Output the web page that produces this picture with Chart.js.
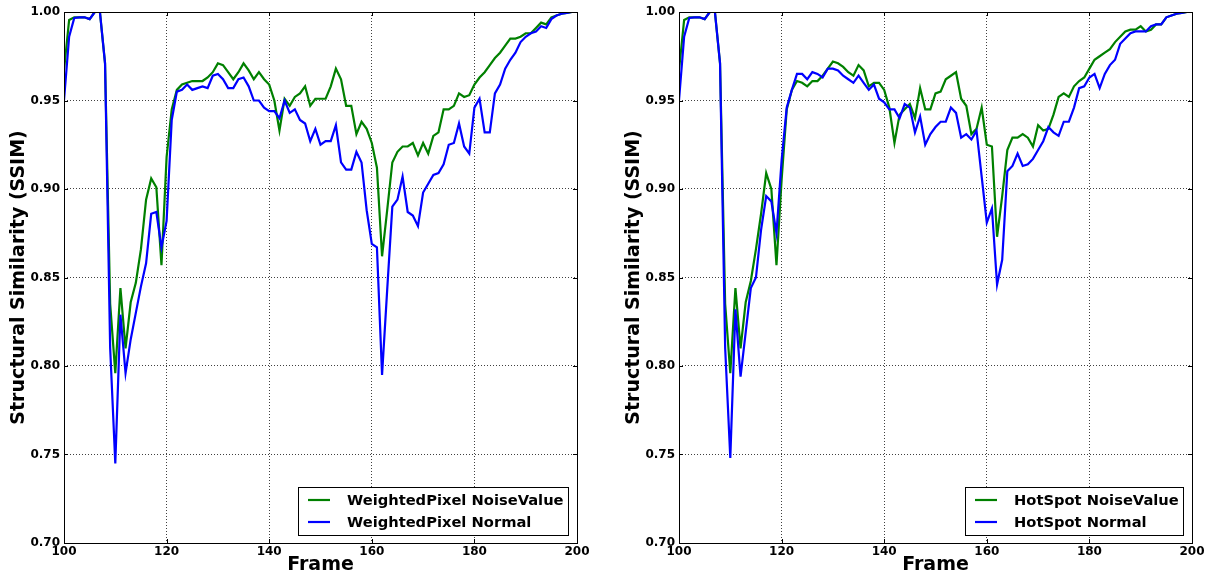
<!DOCTYPE html>
<html>
<head>
<meta charset="utf-8">
<script src="https://cdn.jsdelivr.net/npm/chart.js@4.4.1/dist/chart.umd.min.js"></script>
<style>
  body { margin: 0; background: #fff; }
  #wrap { position: relative; width: 1210px; height: 575px; }
  canvas { position: absolute; top: 0; }
</style>
</head>
<body>
<div id="wrap">
  <canvas id="leftChart" width="600" height="575" style="left:0"></canvas>
  <canvas id="rightChart" width="595" height="575" style="left:615px"></canvas>
</div>
<script>
// frames 100..200
const frames = Array.from({ length: 101 }, (_, i) => 100 + i);
const xTickValues = [100, 120, 140, 160, 180, 200];
const yTickValues = [0.70, 0.75, 0.80, 0.85, 0.90, 0.95, 1.00];

const weightedNoise = [
  0.967, 0.9955, 0.997, 0.997, 0.997, 0.996, 1.000, 1.000, 0.971, 0.835,
  0.796, 0.844, 0.810, 0.836, 0.847, 0.866, 0.894, 0.906, 0.901, 0.857,
  0.918, 0.945, 0.956, 0.959, 0.960, 0.961, 0.961, 0.961, 0.963, 0.966,
  0.971, 0.970, 0.966, 0.962, 0.966, 0.971, 0.967, 0.962, 0.966, 0.962,
  0.959, 0.950, 0.933, 0.951, 0.947, 0.952, 0.954, 0.958, 0.947, 0.951,
  0.951, 0.951, 0.958, 0.968, 0.962, 0.947, 0.947, 0.931, 0.938, 0.934,
  0.926, 0.912, 0.862, 0.888, 0.915, 0.921, 0.924, 0.924, 0.926, 0.919,
  0.926, 0.920, 0.930, 0.932, 0.945, 0.945, 0.947, 0.954, 0.952, 0.953,
  0.959, 0.963, 0.966, 0.970, 0.974, 0.977, 0.981, 0.985, 0.985, 0.986,
  0.988, 0.988, 0.991, 0.994, 0.993, 0.997, 0.998, 0.999, 0.9995, 1.000,
  1.000
];
const weightedNormal = [
  0.950, 0.986, 0.9966, 0.997, 0.997, 0.996, 1.000, 1.000, 0.971, 0.810,
  0.745, 0.829, 0.796, 0.815, 0.830, 0.845, 0.858, 0.886, 0.887, 0.867,
  0.882, 0.939, 0.955, 0.956, 0.959, 0.956, 0.957, 0.958, 0.957, 0.964,
  0.965, 0.962, 0.957, 0.957, 0.962, 0.963, 0.958, 0.950, 0.950, 0.946,
  0.944, 0.944, 0.940, 0.950, 0.943, 0.945, 0.939, 0.937, 0.927, 0.934,
  0.925, 0.927, 0.927, 0.936, 0.915, 0.911, 0.911, 0.921, 0.915, 0.888,
  0.869, 0.867, 0.795, 0.843, 0.890, 0.894, 0.907, 0.887, 0.885, 0.879,
  0.898, 0.903, 0.908, 0.909, 0.914, 0.925, 0.926, 0.937, 0.924, 0.920,
  0.946, 0.951, 0.932, 0.932, 0.954, 0.959, 0.968, 0.973, 0.977, 0.983,
  0.986, 0.988, 0.989, 0.992, 0.991, 0.996, 0.998, 0.999, 0.9995, 1.000,
  1.000
];
const hotspotNoise = [
  0.967, 0.9955, 0.997, 0.997, 0.997, 0.996, 1.000, 1.000, 0.971, 0.835,
  0.796, 0.844, 0.810, 0.836, 0.848, 0.866, 0.886, 0.909, 0.900, 0.857,
  0.905, 0.945, 0.956, 0.961, 0.960, 0.958, 0.961, 0.961, 0.964, 0.968,
  0.972, 0.971, 0.969, 0.966, 0.964, 0.970, 0.967, 0.958, 0.960, 0.960,
  0.956, 0.946, 0.926, 0.942, 0.945, 0.948, 0.940, 0.957, 0.945, 0.945,
  0.954, 0.955, 0.962, 0.964, 0.966, 0.951, 0.947, 0.931, 0.934, 0.946,
  0.925, 0.924, 0.873, 0.896, 0.922, 0.929, 0.929, 0.931, 0.929, 0.924,
  0.936, 0.933, 0.934, 0.942, 0.952, 0.954, 0.952, 0.958, 0.961, 0.963,
  0.968, 0.973, 0.975, 0.977, 0.979, 0.983, 0.986, 0.989, 0.990, 0.990,
  0.992, 0.989, 0.990, 0.993, 0.993, 0.997, 0.998, 0.999, 0.9995, 1.000,
  1.000
];
const hotspotNormal = [
  0.950, 0.986, 0.9966, 0.997, 0.997, 0.996, 1.000, 1.000, 0.971, 0.810,
  0.748, 0.832, 0.794, 0.819, 0.844, 0.850, 0.877, 0.896, 0.893, 0.875,
  0.916, 0.946, 0.956, 0.965, 0.965, 0.962, 0.966, 0.965, 0.963, 0.968,
  0.968, 0.967, 0.964, 0.962, 0.960, 0.964, 0.960, 0.956, 0.959, 0.951,
  0.949, 0.945, 0.945, 0.940, 0.948, 0.946, 0.932, 0.941, 0.925, 0.931,
  0.935, 0.938, 0.938, 0.946, 0.943, 0.929, 0.931, 0.928, 0.933, 0.907,
  0.881, 0.889, 0.846, 0.860, 0.910, 0.913, 0.920, 0.913, 0.914, 0.917,
  0.922, 0.927, 0.935, 0.932, 0.930, 0.938, 0.938, 0.946, 0.957, 0.958,
  0.963, 0.965, 0.957, 0.965, 0.970, 0.973, 0.982, 0.985, 0.988, 0.989,
  0.989, 0.989, 0.992, 0.993, 0.993, 0.997, 0.998, 0.999, 0.9995, 1.000,
  1.000
];

const GREEN = '#008000';
const BLUE = '#0000ff';

Chart.defaults.font.family = 'DejaVu Sans';
Chart.defaults.font.weight = 'bold';
Chart.defaults.color = '#000';

// box around the plot, inward ticks and the legend (matplotlib style)
const framePlugin = {
  id: 'frame',
  afterDatasetsDraw(chart) {
    const { ctx, chartArea: a, scales: { x, y } } = chart;
    ctx.save();
    ctx.strokeStyle = '#000';
    ctx.lineWidth = 1;
    ctx.beginPath();
    xTickValues.forEach(v => {
      const px = Math.round(x.getPixelForValue(v)) + 0.5;
      ctx.moveTo(px, a.bottom); ctx.lineTo(px, a.bottom - 4);
      ctx.moveTo(px, a.top); ctx.lineTo(px, a.top + 4);
    });
    yTickValues.forEach(v => {
      const py = Math.round(y.getPixelForValue(v)) + 0.5;
      ctx.moveTo(a.left, py); ctx.lineTo(a.left + 4, py);
      ctx.moveTo(a.right, py); ctx.lineTo(a.right - 4, py);
    });
    ctx.stroke();
    ctx.strokeRect(Math.round(a.left) + 0.5, Math.round(a.top) + 0.5, Math.round(a.width), Math.round(a.height));

    // legend
    const ds = chart.data.datasets;
    ctx.font = 'bold 14.7px "DejaVu Sans"';
    const textW = Math.max(...ds.map(d => ctx.measureText(d.label).width));
    const boxW = Math.round(49 + textW + 4);
    const boxH = 48;
    const bx = Math.round(a.right - 9 - boxW);
    const by = Math.round(a.bottom - 8 - boxH);
    ctx.fillStyle = '#fff';
    ctx.fillRect(bx, by, boxW, boxH);
    ctx.strokeRect(bx + 0.5, by + 0.5, boxW, boxH);
    ds.forEach((d, i) => {
      const ry = by + 13 + i * 22;
      ctx.strokeStyle = d.borderColor;
      ctx.lineWidth = 2.2;
      ctx.beginPath();
      ctx.moveTo(bx + 10, ry); ctx.lineTo(bx + 32, ry);
      ctx.stroke();
      ctx.fillStyle = '#000';
      ctx.textBaseline = 'middle';
      ctx.textAlign = 'left';
      ctx.fillText(d.label, bx + 49, ry + 1);
    });
    ctx.restore();
  }
};

function makeChart(id, names, noise, normal, padRight) {
  const toPoints = vals => frames.map((f, i) => ({ x: f, y: vals[i] }));
  return new Chart(document.getElementById(id), {
    type: 'line',
    data: {
      datasets: [
        { label: names[0], data: toPoints(noise), borderColor: GREEN, borderWidth: 2.2, pointRadius: 0, tension: 0, order: 2 },
        { label: names[1], data: toPoints(normal), borderColor: BLUE, borderWidth: 2.2, pointRadius: 0, tension: 0, order: 1 }
      ]
    },
    options: {
      responsive: false,
      animation: false,
      devicePixelRatio: 1,
      layout: { padding: { top: 12, right: padRight, left: 0, bottom: 0 } },
      plugins: { legend: { display: false }, tooltip: { enabled: false } },
      scales: {
        x: {
          type: 'linear',
          min: 100,
          max: 200,
          afterBuildTicks: s => { s.ticks = xTickValues.map(v => ({ value: v })); },
          afterFit: s => { s.height = 32; },
          ticks: { font: { size: 12, weight: 'bold' }, padding: 2, maxRotation: 0 },
          grid: { color: 'rgba(0,0,0,0.75)', drawTicks: false },
          border: { display: false, dash: [1, 2] },
          title: { display: true, text: 'Frame', font: { size: 19, weight: 'bold', lineHeight: 1.0 }, padding: { top: 0, bottom: 0 } }
        },
        y: {
          min: 0.70,
          max: 1.00,
          afterBuildTicks: s => { s.ticks = yTickValues.map(v => ({ value: v })); },
          afterFit: s => { s.width = 64; },
          ticks: { font: { size: 12, weight: 'bold' }, padding: 4, callback: v => v.toFixed(2) },
          grid: { color: 'rgba(0,0,0,0.75)', drawTicks: false },
          border: { display: false, dash: [1, 2] },
          title: { display: true, text: 'Structural Similarity (SSIM)', font: { size: 19, weight: 'bold' }, padding: { top: 8, bottom: 0 } }
        }
      }
    },
    plugins: [framePlugin]
  });
}

makeChart('leftChart', ['WeightedPixel NoiseValue', 'WeightedPixel Normal'], weightedNoise, weightedNormal, 23);
makeChart('rightChart', ['HotSpot NoiseValue', 'HotSpot Normal'], hotspotNoise, hotspotNormal, 18);
</script>
</body>
</html>
